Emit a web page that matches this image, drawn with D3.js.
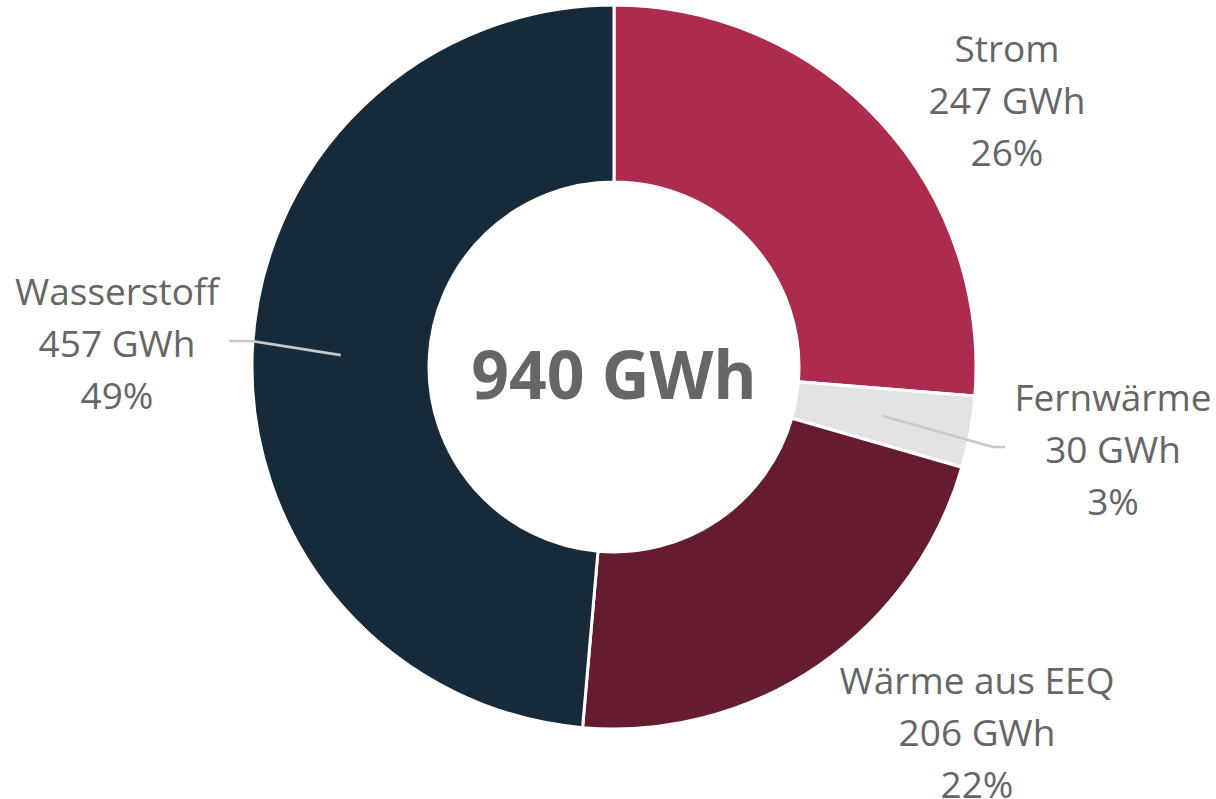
<!DOCTYPE html>
<html>
<head>
<meta charset="utf-8">
<script src="https://cdn.jsdelivr.net/npm/d3@7"></script>
<style>
  html, body { margin: 0; padding: 0; background: #fff; }
  text { font-family: "Open Sans", sans-serif; fill: #666; }
</style>
</head>
<body>
<div id="viz"></div>
<script>
  const categories = ['Strom', 'Fernwärme', 'Wärme aus EEQ', 'Wasserstoff'];
  const values = [247, 30, 206, 457];
  const percents = ['26%', '3%', '22%', '49%'];
  const colors = ['#ad2b4f', '#e2e2e4', '#661c2f', '#172a3a'];
  const unit = 'GWh';
  const total = 940;

  // where each label block sits (center of its middle line), and whether it has a connector
  const labelLayout = [
    { x: 1007, y: 101, line: false },
    { x: 1113, y: 450, line: true, side: 'right' },
    { x: 977, y: 733, line: false },
    { x: 117, y: 344, line: true, side: 'left' }
  ];

  let width = 1216,
    height = 799,
    cx = 614,
    cy = 367,
    outer = 362,
    inner = 185;

  let svg = d3.select('#viz')
    .append('svg')
    .attr('width', width)
    .attr('height', height);

  let g = svg.append('g')
    .attr('transform', `translate(${cx}, ${cy})`);

  let data = categories.map((c, i) => ({ name: c, value: values[i], pct: percents[i], color: colors[i], lay: labelLayout[i] }));

  let pie = d3.pie()
    .value(d => d.value)
    .sort(null);

  let arc = d3.arc()
    .innerRadius(inner)
    .outerRadius(outer);

  let mid = d3.arc()
    .innerRadius((inner + outer) / 2)
    .outerRadius((inner + outer) / 2);

  let arcs = pie(data);

  g.selectAll('.slice')
    .data(arcs)
    .join('path')
    .attr('class', 'slice')
    .attr('d', arc)
    .attr('fill', d => d.data.color)
    .attr('stroke', '#fff')
    .attr('stroke-width', 3)
    .attr('stroke-linejoin', 'round');

  // connectors
  arcs.filter(d => d.data.lay.line).forEach(d => {
    let [px, py] = mid.centroid(d);
    let lay = d.data.lay;
    let endX, elbowX;
    if (lay.side === 'right') {
      endX = 1005 - cx;
      elbowX = endX - 12;
    } else {
      endX = 229 - cx;
      elbowX = endX + 23;
    }
    let ly = lay.y - cy - 3;
    g.append('path')
      .attr('d', `M${px},${py}L${elbowX},${ly}L${endX},${ly}`)
      .attr('fill', 'none')
      .attr('stroke', '#c8c8c8')
      .attr('stroke-width', 2.6)
      .attr('stroke-linejoin', 'round');
  });

  // labels
  let lbl = svg.selectAll('.lbl')
    .data(data)
    .join('text')
    .attr('class', 'lbl')
    .attr('text-anchor', 'middle')
    .style('font-size', '37px');

  lbl.each(function (d) {
    let t = d3.select(this);
    let lines = [d.name, `${d.value} ${unit}`, d.pct];
    lines.forEach((s, i) => {
      t.append('tspan')
        .attr('x', d.lay.x)
        .attr('y', d.lay.y + 13 + (i - 1) * 52)
        .text(s);
    });
  });

  svg.append('text')
    .attr('x', cx)
    .attr('y', cy + 32)
    .attr('text-anchor', 'middle')
    .style('font-size', '66px')
    .style('font-weight', 700)
    .text(`${total} ${unit}`);
</script>
</body>
</html>
